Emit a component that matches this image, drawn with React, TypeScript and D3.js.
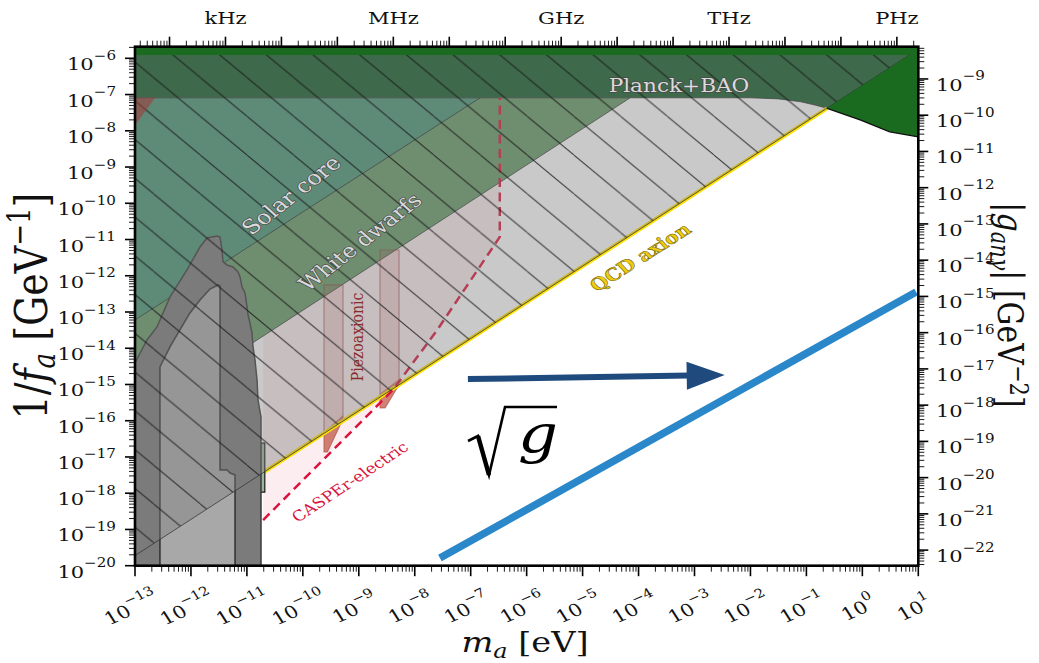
import React from "react";
import * as d3 from "d3";

const WIDTH = 1039;
const HEIGHT = 663;
const FONT = "'DejaVu Serif', serif";
const SX = 1.2; // horizontal stretch applied to all lettering

// ---- axes (log10 units) ----
const massExtent = [-13, 1];
const invFaExtent = [-20, -5.68];
const couplingShift = -2.43; // log10|g_anγ| = log10(1/f_a) + shift
const hzPerEvLog = 14.383; // log10 of (1 eV / h) in Hz

const massTicks = d3.range(-13, 2);
const invFaTicks = d3.range(-20, -5);
const couplingTicks = d3.range(-22, -8);
const freqTicks = d3.range(2, 16);
const freqNames: [number, string][] = [
  [3, "kHz"],
  [6, "MHz"],
  [9, "GHz"],
  [12, "THz"],
  [15, "PHz"],
];

// ---- curves & regions: [log10 m_a/eV, log10 (1/f_a)/GeV^-1] ----
const qcdLine = [
  [-13, -19.72],
  [1, -5.75],
];
const qcdBand = [
  [-10.71, -17.43],
  [-0.63, -7.38],
];
const hatchedRegion = [
  [-13, -19.72],
  [1, -5.75],
  [1, -5.68],
  [-13, -5.68],
];
const planckEdge = [
  [-13, -7.09],
  [-2.0, -7.09],
  [-1.5, -7.12],
  [-1.1, -7.2],
  [-0.85, -7.29],
  [-0.63, -7.38],
];
const planckRegion = [[-13, -5.68], [1, -5.68], [1, -7.38], ...planckEdge.slice().reverse()];
const solarCore = [
  [-13, -13.22],
  [-6.83, -7.09],
  [-13, -7.09],
];
const whiteDwarfs = [
  [-13, -15.96],
  [-4.15, -7.09],
  [-13, -7.09],
];
const topBound = [
  [-13, -5.68],
  [1, -5.68],
  [1, -8.17],
  [0.49, -8.03],
  [-0.04, -7.7],
  [-0.63, -7.38],
  [0.84, -5.91],
  [-13, -5.91],
];
const topBoundEdge = [
  [-0.63, -7.38],
  [-0.04, -7.7],
  [0.49, -8.03],
  [1, -8.17],
];
const cornerBound = [
  [-13, -7.09],
  [-12.64, -7.09],
  [-13, -7.85],
];
const casperLine = [
  [-10.71, -18.74],
  [-8.39, -15.15],
  [-7.6, -13.5],
  [-6.48, -10.93],
  [-6.48, -7.09],
];
// projected reach, closed along the white-dwarf bound
const casperRegion = [
  [-10.71, -18.74],
  [-8.39, -15.15],
  [-7.6, -13.5],
  [-6.48, -10.93],
  [-6.48, -9.44],
  [-10.71, -13.67],
];
const piezoBands = [
  {
    outline: [
      [-9.622, -12.254],
      [-9.282, -12.254],
      [-9.282, -15.95],
      [-9.56, -16.86],
      [-9.622, -16.86],
    ],
    core: [
      [-9.622, -16.31],
      [-9.282, -15.84],
      [-9.282, -15.95],
      [-9.56, -16.86],
      [-9.622, -16.86],
    ],
  },
  {
    outline: [
      [-8.621, -11.289],
      [-8.281, -11.289],
      [-8.281, -15.01],
      [-8.53, -15.648],
      [-8.621, -15.648],
    ],
    core: [
      [-8.621, -15.25],
      [-8.281, -14.85],
      [-8.281, -15.01],
      [-8.53, -15.648],
      [-8.621, -15.648],
    ],
  },
];
const outerLimit = [
  [-13, -20],
  [-13, -14.407],
  [-12.786, -13.772],
  [-12.607, -13.413],
  [-12.374, -12.585],
  [-12.071, -11.84],
  [-11.838, -11.206],
  [-11.713, -10.957],
  [-11.534, -10.901],
  [-11.481, -10.929],
  [-11.445, -11.288],
  [-11.427, -11.619],
  [-11.356, -11.702],
  [-11.248, -11.757],
  [-11.159, -11.895],
  [-11.123, -12.033],
  [-11.088, -12.309],
  [-11.034, -12.475],
  [-10.998, -12.861],
  [-10.98, -13.082],
  [-10.945, -13.303],
  [-10.909, -13.579],
  [-10.891, -13.965],
  [-10.855, -14.324],
  [-10.819, -14.876],
  [-10.802, -15.428],
  [-10.748, -15.897],
  [-10.748, -20],
];
const innerLimit = [
  [-12.553, -20],
  [-12.553, -14.517],
  [-12.517, -14.407],
  [-12.374, -13.965],
  [-12.196, -13.496],
  [-12.017, -13.027],
  [-11.838, -12.668],
  [-11.659, -12.365],
  [-11.517, -12.254],
  [-11.481, -12.282],
  [-11.481, -17.359],
  [-11.356, -17.359],
  [-11.302, -17.442],
  [-11.213, -17.497],
  [-11.213, -20],
];
const narrowLimit = [
  [-10.77, -16.62],
  [-10.68, -16.62],
  [-10.68, -17.97],
  [-10.77, -17.97],
];
const sqrtGLine = [
  [-7.55, -19.79],
  [0.96, -12.45],
];
const arrowPath = [
  [-7.05, -14.85],
  [-2.46, -14.74],
];

const minorTicks = (lo: number, hi: number) => {
  const out: number[] = [];
  for (let e = Math.floor(lo); e < Math.ceil(hi); e++)
    for (let k = 2; k < 10; k++) {
      const v = Math.log10(k) + e;
      if (v > lo && v < hi) out.push(v);
    }
  return out;
};

const stretchAngle = (deg: number) =>
  Math.abs(deg) === 90 ? deg : (Math.atan(SX * Math.tan((deg * Math.PI) / 180)) * 180) / Math.PI;

function SText({
  x,
  y,
  angle = 0,
  children,
  ...rest
}: {
  x: number;
  y: number;
  angle?: number;
  children: React.ReactNode;
  [k: string]: any;
}) {
  return (
    <text
      transform={`translate(${x},${y}) scale(${SX},1) rotate(${stretchAngle(angle)})`}
      fontFamily={FONT}
      {...rest}
    >
      {children}
    </text>
  );
}

function Pow({ exp, size = 17.5 }: { exp: number; size?: number }) {
  const s = exp < 0 ? `\u2212${-exp}` : `${exp}`;
  return (
    <>
      <tspan fontSize={size}>10</tspan>
      <tspan fontSize={size * 0.72} dy={-size * 0.6}>
        {s}
      </tspan>
    </>
  );
}

export default function App() {
  const L = 135,
    R = 918.3,
    T = 46.7,
    B = 565.7;
  const x = d3.scaleLog().domain([10 ** massExtent[0], 10 ** massExtent[1]]).range([L, R]);
  const y = d3.scaleLog().domain([10 ** invFaExtent[0], 10 ** invFaExtent[1]]).range([B, T]);
  const yg = d3
    .scaleLog()
    .domain([10 ** (invFaExtent[0] + couplingShift), 10 ** (invFaExtent[1] + couplingShift)])
    .range([B, T]);
  const xf = d3
    .scaleLog()
    .domain([10 ** (massExtent[0] + hzPerEvLog), 10 ** (massExtent[1] + hzPerEvLog)])
    .range([L, R]);

  const at = (p: number[]) => [x(10 ** p[0]), y(10 ** p[1])];
  const path = d3
    .line<number[]>()
    .x((d) => x(10 ** d[0]))
    .y((d) => y(10 ** d[1]));
  const area = (pts: number[][]) => (path(pts) as string) + "Z";

  // arrow geometry
  const a0 = at(arrowPath[0]);
  const a1 = at(arrowPath[1]);
  const len = Math.hypot(a1[0] - a0[0], a1[1] - a0[1]);
  const ux = (a1[0] - a0[0]) / len,
    uy = (a1[1] - a0[1]) / len;
  const headL = 38,
    headW = 14;
  const hb = [a1[0] - ux * headL, a1[1] - uy * headL];
  const head = `M${a1[0]},${a1[1]} L${hb[0] - uy * headW},${hb[1] + ux * headW} L${hb[0] + uy * headW},${hb[1] - ux * headW}Z`;

  const sg = at([-7.048, -16.559]);

  const pPlanck = at([-3.277, -6.763]);
  const pSolar = at([-10.212, -9.771]);
  const pWD = at([-8.979, -11.068]);
  const pQCD = at([-3.974, -11.482]);
  const pCasper = at([-9.157, -17.69]);
  const pPiezo = at([-9.014, -13.689]);

  const W = 46.7,
    Hh = 46.7 * 0.83;

  const regionLabel = {
    textAnchor: "middle",
    dominantBaseline: "central",
    fill: "#dadada",
    stroke: "#4a4a4a",
    strokeWidth: 1.3,
    paintOrder: "stroke",
  };

  return (
    <svg
      width={WIDTH}
      height={HEIGHT}
      style={{ position: "absolute", left: 0, top: 0, background: "#fff" }}
    >
      <defs>
        <clipPath id="plotClip">
          <rect x={L} y={T} width={R - L} height={B - T} />
        </clipPath>
        <pattern
          id="hatch"
          patternUnits="userSpaceOnUse"
          width={W}
          height={Hh}
          patternTransform="translate(13.5,0)"
        >
          <g stroke="#141414" strokeWidth={1} strokeOpacity={0.8}>
            <line x1={0} y1={0} x2={W} y2={Hh} />
            <line x1={-W} y1={0} x2={0} y2={Hh} />
            <line x1={W} y1={0} x2={2 * W} y2={Hh} />
          </g>
        </pattern>
      </defs>
      <rect x={0} y={0} width={WIDTH} height={HEIGHT} fill="#fff" />

      <g clipPath="url(#plotClip)">
        {/* stellar bounds */}
        <path d={area(whiteDwarfs)} fill="rgb(0,87,0)" fillOpacity={0.6} />
        <path d={area(solarCore)} fill="rgb(32,141,142)" fillOpacity={0.4} />
        <path d={area(planckRegion)} fill="rgb(19,93,39)" />
        <g fill="none" stroke="#1e1e1e" strokeWidth={0.9} strokeOpacity={0.8}>
          <path d={path(whiteDwarfs.slice(0, 2)) as string} />
          <path d={path(solarCore.slice(0, 2)) as string} />
          <path d={path(planckEdge) as string} />
        </g>

        {/* CASPEr-electric projection */}
        <path d={area(casperRegion)} fill="rgb(220,20,60)" fillOpacity={0.08} />

        {/* piezoaxionic */}
        {piezoBands.map((b, i) => (
          <g key={i}>
            <path
              d={area(b.outline)}
              fill="rgb(185,70,70)"
              fillOpacity={0.17}
              stroke="rgb(150,55,55)"
              strokeOpacity={0.55}
              strokeWidth={1.2}
            />
            <path d={area(b.core)} fill="rgb(190,80,60)" fillOpacity={0.65} />
          </g>
        ))}

        {/* QCD axion line */}
        <path d={path(qcdBand) as string} stroke="#ffe000" strokeWidth={4} fill="none" />

        <path
          d={path(casperLine) as string}
          fill="none"
          stroke="#dc143c"
          strokeWidth={2.5}
          strokeDasharray="9,5.5"
        />
        <path d={area(narrowLimit)} fill="#9db59d" stroke="#1a1a1a" strokeWidth={1.2} />

        {/* low-mass excluded regions */}
        <path
          d={area(outerLimit) + area(innerLimit)}
          fill="#7b7b7b"
          fillRule="evenodd"
          stroke="#3a3a3a"
          strokeWidth={1.5}
        />
        <path d={area(innerLimit)} fill="#a8a8a8" stroke="#3a3a3a" strokeWidth={1.5} />

        {/* hatched region above the QCD line */}
        <path d={area(hatchedRegion)} fill="#7d7d7d" fillOpacity={0.41} />
        <path d={area(hatchedRegion)} fill="url(#hatch)" />
        <path
          d={path(qcdLine) as string}
          fill="none"
          stroke="#333"
          strokeWidth={0.9}
          strokeOpacity={0.85}
        />
        <path d={area(cornerBound)} fill="rgb(165,55,55)" fillOpacity={0.55} />

        <path d={area(topBound)} fill="#1a6b1f" />
        <path d={path(topBoundEdge) as string} fill="none" stroke="#111" strokeWidth={1.3} />

        {/* scaling line and arrow */}
        <path d={path(sqrtGLine) as string} stroke="#2a87c9" strokeWidth={7.5} fill="none" />
        <line
          x1={a0[0]}
          y1={a0[1]}
          x2={a1[0] - ux * (headL - 2)}
          y2={a1[1] - uy * (headL - 2)}
          stroke="#1f4a7e"
          strokeWidth={6}
        />
        <path d={head} fill="#1f4a7e" />
      </g>

      {/* √g */}
      <path
        d={`M${sg[0]},${sg[1]} l10,-5 l11,39 l16,-68 l52,0`}
        fill="none"
        stroke="#000"
        strokeWidth={2.6}
        strokeLinejoin="miter"
      />
      <line x1={sg[0] + 10} y1={sg[1] - 5} x2={sg[0] + 21} y2={sg[1] + 34} stroke="#000" strokeWidth={4.5} />
      <SText x={sg[0] + 70} y={sg[1] + 11} fontSize={52} fontStyle="italic" textAnchor="middle">
        g
      </SText>

      {/* region labels */}
      <SText x={pPlanck[0]} y={pPlanck[1]} fontSize={18} {...regionLabel}>
        Planck+BAO
      </SText>
      <SText x={pSolar[0]} y={pSolar[1]} angle={-38} fontSize={20} {...regionLabel}>
        Solar core
      </SText>
      <SText x={pWD[0]} y={pWD[1]} angle={-38} fontSize={19.5} {...regionLabel}>
        White dwarfs
      </SText>
      <SText
        x={pQCD[0]}
        y={pQCD[1]}
        angle={-32.5}
        fontSize={17}
        fontWeight="bold"
        textAnchor="middle"
        dominantBaseline="central"
        fill="#f0cc10"
        stroke="#6b5a00"
        strokeWidth={0.5}
      >
        QCD axion
      </SText>
      <SText
        x={pCasper[0]}
        y={pCasper[1]}
        angle={-33.5}
        fontSize={14.5}
        textAnchor="middle"
        dominantBaseline="central"
        fill="#d8143f"
      >
        CASPEr-electric
      </SText>
      <SText
        x={pPiezo[0]}
        y={pPiezo[1]}
        angle={-90}
        fontSize={14}
        textAnchor="middle"
        dominantBaseline="central"
        fill="#8a2c2c"
      >
        Piezoaxionic
      </SText>

      {/* frame */}
      <rect x={L} y={T} width={R - L} height={B - T} fill="none" stroke="#000" strokeWidth={2.6} />

      {/* ticks */}
      <g stroke="#000">
        {invFaTicks.map((e) => (
          <line key={"l" + e} x1={L - 10} x2={L} y1={y(10 ** e)} y2={y(10 ** e)} strokeWidth={1.6} />
        ))}
        {minorTicks(invFaExtent[0], invFaExtent[1]).map((v, i) => (
          <line key={"lm" + i} x1={L - 6} x2={L} y1={y(10 ** v)} y2={y(10 ** v)} strokeWidth={0.9} />
        ))}
        {couplingTicks.map((e) => (
          <line key={"r" + e} x1={R} x2={R + 10} y1={yg(10 ** e)} y2={yg(10 ** e)} strokeWidth={1.6} />
        ))}
        {minorTicks(invFaExtent[0] + couplingShift, invFaExtent[1] + couplingShift).map((v, i) => (
          <line key={"rm" + i} x1={R} x2={R + 6} y1={yg(10 ** v)} y2={yg(10 ** v)} strokeWidth={0.9} />
        ))}
        {massTicks.map((e) => (
          <line key={"b" + e} x1={x(10 ** e)} x2={x(10 ** e)} y1={B} y2={B + 10.5} strokeWidth={1.6} />
        ))}
        {minorTicks(massExtent[0], massExtent[1]).map((v, i) => (
          <line key={"bm" + i} x1={x(10 ** v)} x2={x(10 ** v)} y1={B} y2={B + 6} strokeWidth={0.9} />
        ))}
        {freqTicks.map((e) => (
          <line key={"t" + e} x1={xf(10 ** e)} x2={xf(10 ** e)} y1={T} y2={T - 10} strokeWidth={1.6} />
        ))}
        {minorTicks(massExtent[0] + hzPerEvLog, massExtent[1] + hzPerEvLog).map((v, i) => (
          <line key={"tm" + i} x1={xf(10 ** v)} x2={xf(10 ** v)} y1={T} y2={T - 6} strokeWidth={0.9} />
        ))}
      </g>

      {/* tick labels */}
      <g fill="#111">
        {invFaTicks.map((e) => (
          <SText key={"lt" + e} x={116} y={y(10 ** e) + 12} textAnchor="end">
            <Pow exp={e} />
          </SText>
        ))}
        {couplingTicks.map((e) => (
          <SText key={"rt" + e} x={936} y={yg(10 ** e) + 12} textAnchor="start">
            <Pow exp={e} />
          </SText>
        ))}
        {massTicks.map((e) => (
          <SText key={"bt" + e} x={x(10 ** e)} y={614} angle={-24} textAnchor="middle">
            <Pow exp={e} />
          </SText>
        ))}
        {freqNames.map(([e, name]) => (
          <SText key={"ft" + e} x={xf(10 ** e)} y={24} fontSize={17.5} textAnchor="middle">
            {name}
          </SText>
        ))}
      </g>

      {/* axis titles */}
      <SText x={47} y={306} angle={-90} fontSize={38} textAnchor="middle" fill="#111">
        <tspan>1/</tspan>
        <tspan fontStyle="italic">f</tspan>
        <tspan fontStyle="italic" fontSize={26} dy={7}>
          a
        </tspan>
        <tspan dy={-7}> [GeV</tspan>
        <tspan fontSize={26} dy={-14}>
          {"\u22121"}
        </tspan>
        <tspan dy={14}>]</tspan>
      </SText>
      <SText x={998} y={305} angle={90} fontSize={30} textAnchor="middle" fill="#111">
        <tspan>|</tspan>
        <tspan fontStyle="italic">g</tspan>
        <tspan fontStyle="italic" fontSize={21} dy={6}>
          {"anγ"}
        </tspan>
        <tspan dy={-6}>| [GeV</tspan>
        <tspan fontSize={21} dy={-10}>
          {"\u22122"}
        </tspan>
        <tspan dy={10}>]</tspan>
      </SText>
      <SText x={525} y={652} fontSize={28} textAnchor="middle" fill="#111">
        <tspan fontStyle="italic">m</tspan>
        <tspan fontStyle="italic" fontSize={20} dy={6}>
          a
        </tspan>
        <tspan dy={-6}> [eV]</tspan>
      </SText>
    </svg>
  );
}
